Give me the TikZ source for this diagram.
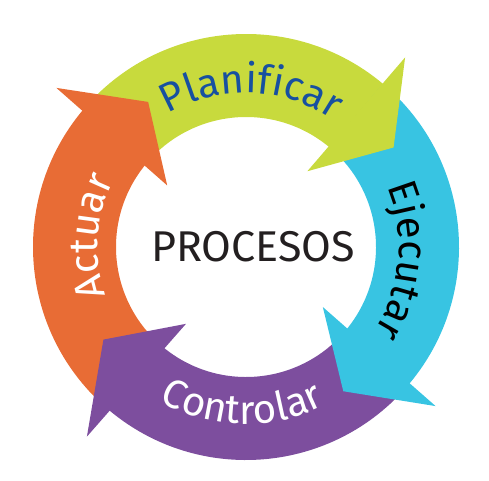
\documentclass[tikz,border=0pt]{standalone}
\usepackage{fontspec}
\newfontfamily\dinfont{Fira Sans}
\usetikzlibrary{decorations.text}
\definecolor{planverde}{HTML}{C8DA3D}
\definecolor{ejecian}{HTML}{38C4E2}
\definecolor{contmorado}{HTML}{7D4E9E}
\definecolor{actnaranja}{HTML}{E86C35}
\definecolor{planazul}{HTML}{1750A0}
\definecolor{procgris}{HTML}{231F20}

\begin{document}
\begin{tikzpicture}[x=0.02cm,y=0.02cm]

      \useasboundingbox (-246,-233) rectangle (243,247);

      \begin{scope}[every path/.style={draw=none}]
        \fill[planverde]  (140:213) arc[start angle=140,end angle=50,radius=213]   -- (50:130)   arc[start angle=50,end angle=140,radius=130]   -- cycle;
        \fill[ejecian]    (50:213)  arc[start angle=50,end angle=-40,radius=213]   -- (-40:130)  arc[start angle=-40,end angle=50,radius=130]   -- cycle;
        \fill[contmorado] (-40:213) arc[start angle=-40,end angle=-130,radius=213] -- (-130:130) arc[start angle=-130,end angle=-40,radius=130] -- cycle;
        \fill[actnaranja] (230:213) arc[start angle=230,end angle=140,radius=213]  -- (140:130)  arc[start angle=140,end angle=230,radius=130]  -- cycle;
      \end{scope}

      \begin{scope}[every path/.style={draw=none}]
        \fill[planverde]  (50:247.5)   -- (34:178)   -- (51:97.5)   -- cycle;
        \fill[ejecian]    (-40:247.5)  -- (-56:174)  -- (-38:97.5)  -- cycle;
        \fill[contmorado] (-130:247.5) -- (-147:170) -- (-128:97.5) -- cycle;
        \fill[actnaranja] (140:247.5)  -- (124:175)  -- (142:100)   -- cycle;
      \end{scope}

      \begin{scope}[every path/.style={decorate}]
        \path[decoration={text along path,text align=center,
            text={|\dinfont\fontsize{23}{23}\selectfont\color{planazul}|Planificar}}]
          (148:154) arc[start angle=148,end angle=28,radius=154];
        \path[decoration={text along path,text align=center,
            text={|\dinfont\fontsize{23}{23}\selectfont\color{black}|Ejecutar}}]
          (55:153) arc[start angle=55,end angle=-65,radius=153];
        \path[decoration={text along path,text align=center,
            text={|\dinfont\fontsize{23}{23}\selectfont\color{white}|Controlar}}]
          (208.5:177) arc[start angle=208.5,end angle=328.5,radius=177];
        \path[decoration={text along path,text align=center,
            text={|\dinfont\fontsize{23}{23}\selectfont\color{white}|Actuar}}]
          (236:148) arc[start angle=236,end angle=116,radius=148];
      \end{scope}

      \node[text=procgris,font=\dinfont\fontsize{24.5}{24.5}\selectfont] (procesos) at (7,0) {PROCESOS};

    \end{tikzpicture}
\end{document}
